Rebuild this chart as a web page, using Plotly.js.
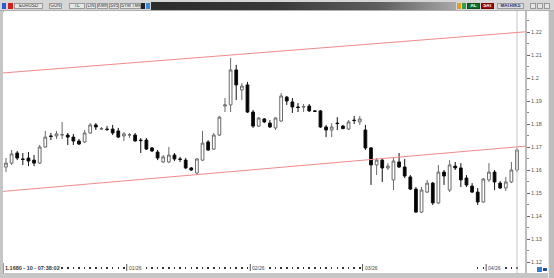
<!DOCTYPE html>
<html>
<head>
<meta charset="utf-8">
<script src="https://cdn.plot.ly/plotly-3.0.1.min.js"></script>
<style>
  html,body{margin:0;padding:0;width:554px;height:278px;overflow:hidden;background:#c6c6c6;font-family:"Liberation Sans",Arial,sans-serif;}
  .abs{position:absolute;box-sizing:border-box;}
  .box{position:absolute;box-sizing:border-box;top:3px;height:6px;background:#e6e6e6;border:1px solid #9a9a9a;font-size:4.5px;line-height:4px;color:#333;text-align:center;overflow:hidden;white-space:nowrap;}
  #chart{position:absolute;left:0;top:0;width:554px;height:278px;}
</style>
</head>
<body>
<!-- window chrome -->
<div class="abs" style="left:0;top:0;width:554px;height:11px;background:#d6d6d6;border-bottom:1px solid #b0b0b0;"></div>
<div class="abs" style="left:151px;top:2px;width:305px;height:8px;background:linear-gradient(to right,#2c2c2c 0%,#383838 40%,#5e5e5e 75%,#a8a8a8 100%);"></div>
<div class="abs" style="left:2px;top:3px;width:4px;height:6px;background:#2a5bd0;"></div>
<div class="abs" style="left:8px;top:3px;width:5px;height:6px;background:#d02020;"></div>
<div class="box" style="left:14px;width:29px;">EURUSD</div>
<div class="box" style="left:49px;width:13px;">GUN</div>
<div class="box" style="left:69px;width:16px;">TL</div>
<div class="box" style="left:86px;width:10px;">LIN</div>
<div class="box" style="left:97px;width:11px;">KMN</div>
<div class="box" style="left:109px;width:10px;">SVS</div>
<div class="box" style="left:120px;width:21px;">SYM TMP</div>
<div class="abs" style="left:141px;top:3px;width:4px;height:6px;background:#222;"></div>
<div class="abs" style="left:146px;top:3px;width:4px;height:6px;background:#3a8ad8;"></div>
<div class="abs" style="left:457px;top:3px;width:4px;height:6px;background:#e0a020;"></div>
<div class="abs" style="left:462px;top:3px;width:4px;height:6px;background:#30a040;"></div>
<div class="box" style="left:467px;width:13px;background:#0d6e2a;border-color:#0d5020;color:#fff;font-weight:bold;">AL</div>
<div class="box" style="left:481px;width:13px;background:#9a1010;border-color:#700;color:#fff;font-weight:bold;">SAT</div>
<div class="box" style="left:497px;width:27px;background:#dcdcdc;color:#1c2f7a;font-weight:bold;">MATRIKS</div>
<div class="abs" style="left:530px;top:3px;width:6px;height:6px;background:#e4e4e4;border:1px solid #999;"></div>
<div class="abs" style="left:537px;top:3px;width:6px;height:6px;background:#e4e4e4;border:1px solid #999;"></div>
<div class="abs" style="left:544px;top:3px;width:6px;height:6px;background:#e4e4e4;border:1px solid #999;"></div>
<!-- white chart panel -->
<div class="abs" style="left:3px;top:11px;width:545px;height:262px;background:#fff;border-left:1px solid #9a9a9a;"></div>
<div class="abs" style="left:548px;top:11px;width:6px;height:267px;background:#bdbdbd;border-left:1px solid #e8e8e8;"></div>
<div class="abs" style="left:537px;top:267px;width:5px;height:5px;background:#3a7ad0;"></div>
<div class="abs" style="left:543px;top:268px;width:4px;height:3px;background:#24509a;"></div>
<div id="chart"></div>
<script>
// ---- data (EURUSD daily candles) ----
const openP = [
1.1613,1.1630,1.1674,1.1648,1.1652,1.1643,1.1630,1.1700,1.1748,1.1748,
1.1752,1.1752,1.1743,1.1726,1.1722,1.1761,1.1796,1.1778,1.1778,1.1778,
1.1770,1.1748,1.1752,1.1752,1.1730,1.1730,1.1696,1.1678,1.1635,1.1635,
1.1665,1.1648,1.1643,1.1609,1.1587,1.1643,1.1722,1.1691,1.1752,1.1878,
1.1883,1.2035,1.1948,1.1970,1.1852,1.1791,1.1822,1.1804,1.1783,1.1813,
1.1917,1.1896,1.1874,1.1874,1.1878,1.1857,1.1857,1.1787,1.1774,1.1804,
1.1791,1.1778,1.1817,1.1809,1.1774,1.1696,1.1622,1.1643,1.1609,1.1557,
1.1635,1.1613,1.1570,1.1517,1.1417,1.1504,1.1543,1.1457,1.1591,1.1513,
1.1617,1.1609,1.1565,1.1530,1.1504,1.1461,1.1557,1.1591,1.1543,1.1522,
1.1548,1.1600];
const highP = [
1.1652,1.1687,1.1683,1.1674,1.1678,1.1665,1.1709,1.1770,1.1761,1.1770,
1.1809,1.1761,1.1757,1.1735,1.1774,1.1804,1.1804,1.1787,1.1791,1.1796,
1.1783,1.1765,1.1761,1.1761,1.1739,1.1739,1.1700,1.1687,1.1665,1.1700,
1.1674,1.1657,1.1652,1.1613,1.1652,1.1770,1.1730,1.1761,1.1835,1.1913,
1.2087,1.2057,1.1978,1.1983,1.1861,1.1830,1.1826,1.1817,1.1830,1.1935,
1.1922,1.1913,1.1891,1.1887,1.1887,1.1861,1.1861,1.1796,1.1804,1.1830,
1.1796,1.1817,1.1835,1.1835,1.1796,1.1700,1.1652,1.1652,1.1630,1.1652,
1.1674,1.1648,1.1578,1.1526,1.1526,1.1557,1.1548,1.1622,1.1600,1.1643,
1.1635,1.1630,1.1578,1.1543,1.1522,1.1565,1.1630,1.1600,1.1552,1.1570,
1.1635,1.1696];
const lowP = [
1.1591,1.1622,1.1643,1.1622,1.1617,1.1617,1.1626,1.1696,1.1730,1.1735,
1.1735,1.1709,1.1709,1.1709,1.1717,1.1757,1.1774,1.1774,1.1770,1.1752,
1.1739,1.1726,1.1739,1.1724,1.1674,1.1687,1.1678,1.1643,1.1630,1.1630,
1.1639,1.1635,1.1604,1.1596,1.1583,1.1639,1.1683,1.1687,1.1748,1.1852,
1.1852,1.1904,1.1904,1.1848,1.1783,1.1787,1.1804,1.1783,1.1774,1.1809,
1.1883,1.1848,1.1852,1.1852,1.1852,1.1852,1.1783,1.1743,1.1743,1.1774,
1.1778,1.1774,1.1800,1.1796,1.1687,1.1535,1.1578,1.1548,1.1600,1.1513,
1.1609,1.1565,1.1513,1.1415,1.1413,1.1500,1.1448,1.1452,1.1535,1.1504,
1.1600,1.1526,1.1526,1.1500,1.1448,1.1457,1.1548,1.1513,1.1517,1.1509,
1.1543,1.1591];
const closeP = [
1.1630,1.1670,1.1652,1.1646,1.1639,1.1630,1.1700,1.1743,1.1746,1.1757,
1.1754,1.1743,1.1726,1.1713,1.1761,1.1796,1.1787,1.1780,1.1776,1.1761,
1.1743,1.1757,1.1753,1.1726,1.1728,1.1691,1.1683,1.1652,1.1657,1.1665,
1.1648,1.1646,1.1609,1.1600,1.1648,1.1717,1.1687,1.1752,1.1830,1.1883,
1.2035,1.1970,1.1965,1.1852,1.1791,1.1826,1.1809,1.1787,1.1826,1.1922,
1.1900,1.1874,1.1872,1.1875,1.1857,1.1855,1.1787,1.1774,1.1787,1.1802,
1.1780,1.1809,1.1815,1.1822,1.1696,1.1622,1.1643,1.1609,1.1617,1.1639,
1.1613,1.1574,1.1517,1.1417,1.1513,1.1543,1.1457,1.1591,1.1574,1.1622,
1.1609,1.1557,1.1535,1.1504,1.1461,1.1561,1.1591,1.1548,1.1522,1.1548,
1.1600,1.1687];
const monthLabels = ['01/26','02/26','03/26','04/26'];
const monthStart  = [22, 44, 64, 86];           // index of first bar of each month
const channelUpper = [1.2022, 1.2201];          // left edge, right edge
const channelLower = [1.1507, 1.1704];
const statusText = '1.1680 - 10 - 07:38:02';

// ---- geometry helpers (pixel -> paper) ----
const ML=3, MR=28, MT=12, MB=6, W=554, H=278;
const PW = W-ML-MR, PH = H-MT-MB;
const fx = px => (px-ML)/PW;
const fy = py => (H-MB-py)/PH;

const idx = openP.map((_, i) => i);

// x-axis dotted ticks: every bar, except under labels
const tickIdx = idx.filter(i => i >= 10 &&
  !monthStart.some(s => i >= s && i <= s+2) && !(i >= 67 && i <= 83));

const trace = {
  type: 'candlestick',
  x: idx, open: openP, high: highP, low: lowP, close: closeP,
  increasing: {line: {color: '#6a6a6a', width: 1}, fillcolor: '#ffffff'},
  decreasing: {line: {color: '#111111', width: 1}, fillcolor: '#000000'},
  whiskerwidth: 0,
  hoverinfo: 'skip',
  showlegend: false
};

const shapes = [
  {type:'line', xref:'paper', yref:'paper', x0:fx(517), x1:fx(517), y0:fy(273), y1:fy(11), line:{color:'#c4c4c4', width:1}},
  {type:'line', xref:'paper', yref:'paper', x0:fx(526), x1:fx(526), y0:fy(273), y1:fy(11), line:{color:'#7a7a7a', width:1}},
  {type:'line', xref:'paper', yref:'y', x0:0, x1:1, y0:channelUpper[0], y1:channelUpper[1], line:{color:'#f08a8a', width:1}},
  {type:'line', xref:'paper', yref:'y', x0:0, x1:1, y0:channelLower[0], y1:channelLower[1], line:{color:'#f08a8a', width:1}}
];
const annotations = [
  {xref:'paper', yref:'paper', x:0, y:fy(268), xanchor:'left', yanchor:'middle', showarrow:false,
   text:'<b>'+statusText+'</b>', font:{family:'Liberation Sans', size:5.5, color:'#333'}}
];
monthStart.forEach((s, k) => {
  shapes.push({type:'line', xref:'x', yref:'paper', x0:s-0.5, x1:s-0.5, y0:fy(271), y1:fy(264), line:{color:'#555', width:1}});
  annotations.push({xref:'x', yref:'paper', x:s-0.5, y:fy(267.5), xanchor:'left', yanchor:'middle', xshift:0, showarrow:false,
    text:monthLabels[k], font:{family:'Liberation Sans', size:5, color:'#444'}});
});

const layout = {
  width: W, height: H,
  margin: {l:ML, r:MR, t:MT, b:MB, pad:0},
  paper_bgcolor: 'rgba(0,0,0,0)',
  plot_bgcolor: '#ffffff',
  showlegend: false,
  xaxis: {
    range: [-0.53, 92.6], anchor: 'free', position: fy(269),
    showgrid: false, zeroline: false, showline: false,
    tickmode: 'array', tickvals: tickIdx, ticks: 'inside', ticklen: 2, tickwidth: 1.5, tickcolor: '#333',
    showticklabels: false, rangeslider: {visible: false}, fixedrange: true
  },
  yaxis: {
    domain: [fy(263), 1], side: 'right',
    range: [1.11957, 1.2287],
    tick0: 1.12, dtick: 0.01, ticks: 'outside', ticklen: 3, tickcolor: '#666', tickwidth: 1,
    minor: {dtick: 0.005, ticks: 'outside', ticklen: 2, tickcolor: '#888'},
    showgrid: false, zeroline: false, showline: false,
    tickfont: {family: 'Liberation Sans', size: 5.5, color: '#555'},
    fixedrange: true
  },
  shapes: shapes,
  annotations: annotations
};

Plotly.newPlot('chart', [trace], layout, {staticPlot: true, displayModeBar: false});
</script>
</body>
</html>
